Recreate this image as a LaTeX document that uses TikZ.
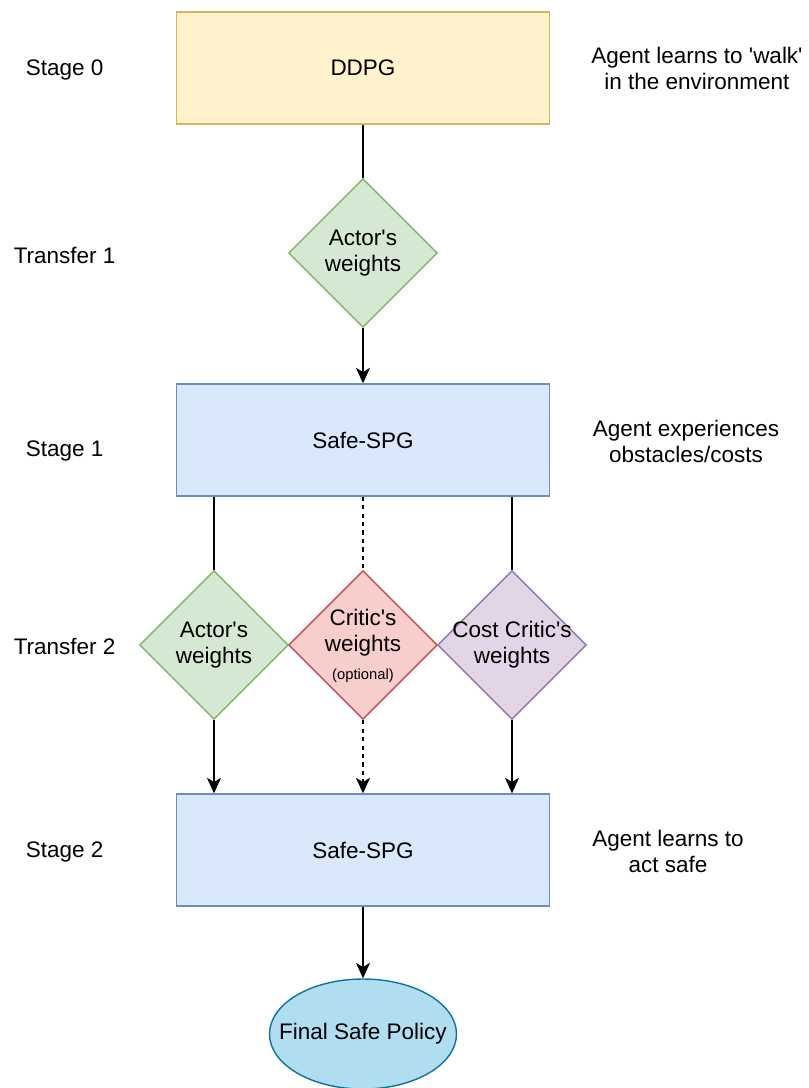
\documentclass[tikz,border=0pt]{standalone}
\usepackage{fontspec}
\setmainfont{Liberation Sans}
\usepackage{tikz}
\usepackage{xcolor}
\usetikzlibrary{positioning, shapes, arrows.meta}
\definecolor{ddpgfill}{HTML}{FFF2CC}
\definecolor{ddpgdraw}{HTML}{D6B656}
\definecolor{spgfill}{HTML}{DAE8FC}
\definecolor{spgdraw}{HTML}{6C8EBF}
\definecolor{actorfill}{HTML}{D5E8D4}
\definecolor{actordraw}{HTML}{82B366}
\definecolor{criticfill}{HTML}{F8CECC}
\definecolor{criticdraw}{HTML}{B85450}
\definecolor{costfill}{HTML}{E1D5E7}
\definecolor{costdraw}{HTML}{9673A6}
\definecolor{policyfill}{HTML}{B1DDF0}
\definecolor{policydraw}{HTML}{10739E}
\newcommand{\lblsize}{\fontsize{16}{18.5}\selectfont}
\newcommand{\tinysize}{\fontsize{10.5}{12}\selectfont}
\newcommand{\q}{\textquotesingle}
\tikzset{
    stagebox/.style={rectangle, minimum width=9.325cm, minimum height=2.8cm, inner sep=0pt, line width=1pt, font=\lblsize},
    weightbox/.style={diamond, minimum width=3.725cm, minimum height=3.725cm, inner sep=0pt, line width=1pt},
    policy/.style={ellipse, minimum width=4.675cm, minimum height=2.75cm, inner sep=0pt, line width=1pt, fill=policyfill, draw=policydraw},
    txt/.style={align=center, font=\lblsize, inner sep=0pt},
    link/.style={draw, line width=1pt, black},
    arrowlink/.style={link, -{Stealth[length=11pt, width=10pt, inset=3pt]}},
    dashlink/.style={link, dashed}
}

\begin{document}
\begin{tikzpicture}
\useasboundingbox (-9.075,0) rectangle (11.125,-27.2);

% Stage boxes
\node[stagebox, fill=ddpgfill, draw=ddpgdraw] (ddpg) at (0,-1.7) {DDPG};
\node[stagebox, fill=spgfill, draw=spgdraw] (spg1) at (0,-11.0) {Safe-SPG};
\node[stagebox, fill=spgfill, draw=spgdraw] (spg2) at (0,-21.25) {Safe-SPG};
\node[policy] (final) at (0,-25.85) {};
\node[txt] (finalt) at (final) {Final Safe Policy};

% Transfer 1
\node[weightbox, fill=actorfill, draw=actordraw] (aw1) at (0,-6.325) {};
\node[txt] (aw1t) at (aw1) {Actor\q s\\weights};

% Transfer 2
\node[weightbox, fill=actorfill, draw=actordraw] (aw2) at (-3.725,-16.125) {};
\node[weightbox, fill=criticfill, draw=criticdraw] (cw) at (0,-16.125) {};
\node[weightbox, fill=costfill, draw=costdraw] (ccw) at (3.725,-16.125) {};
\node[txt] (aw2t) at (aw2) {Actor\q s\\weights};
\node[txt] (cwt) at (0,-15.81) {Critic\q s\\weights};
\node[txt, font=\tinysize] (cwopt) at (0,-16.88) {(optional)};
\node[txt] (ccwt) at (ccw) {Cost Critic\q s\\weights};

% Connectors
\draw[link] (ddpg.south) -- (aw1.north);
\draw[arrowlink] (aw1.south) -- (spg1.north);
\draw[link] (spg1.south -| aw2.north) -- (aw2.north);
\draw[dashlink] (spg1.south) -- (cw.north);
\draw[link] (spg1.south -| ccw.north) -- (ccw.north);
\draw[arrowlink] (aw2.south) -- (spg2.north -| aw2.south);
\draw[dashlink, -{Stealth[length=11pt, width=10pt, inset=3pt]}] (cw.south) -- (spg2.north);
\draw[arrowlink] (ccw.south) -- (spg2.north -| ccw.south);
\draw[arrowlink] (spg2.south) -- (final.north);

% Stage names on the left
\node[txt] (s0) at (-7.46,-1.75) {Stage 0};
\node[txt] (t1) at (-7.46,-6.375) {Transfer 1};
\node[txt] (s1) at (-7.46,-11.275) {Stage 1};
\node[txt] (t2) at (-7.46,-16.15) {Transfer 2};
\node[txt] (s2) at (-7.46,-21.3) {Stage 2};

% Notes on the right
\node[txt] (n0) at (8.35,-1.7) {Agent learns to \q walk\q\\in the environment};
\node[txt] (n1) at (8.075,-11.025) {Agent experiences\\obstacles/costs};
\node[txt] (n2) at (7.625,-21.275) {Agent learns to\\act safe};
\end{tikzpicture}
\end{document}
